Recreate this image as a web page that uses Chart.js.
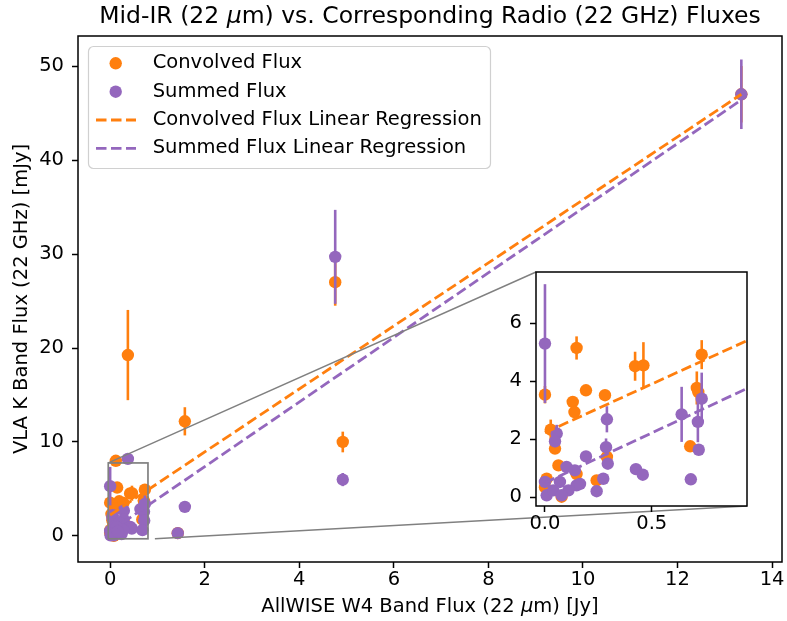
<!DOCTYPE html>
<html>
<head>
<meta charset="utf-8">
<script src="https://cdn.jsdelivr.net/npm/chart.js@4.4.1/dist/chart.umd.min.js"></script>
<style>
  html, body { margin: 0; padding: 0; background: #fff; }
  #wrap { position: relative; width: 787px; height: 621px; }
  #main { position: absolute; left: 0; top: 0; }
  #inset { position: absolute; left: 490px; top: 262px; }
</style>
</head>
<body>
<div id="wrap">
  <canvas id="main" width="787" height="621"></canvas>
  <canvas id="inset" width="262" height="280"></canvas>
</div>
<script>
// Convolved flux (x = W4 flux in Jy, y = K band flux in mJy)
const convX = [0.375, 1.58, 4.76, 4.92, 13.35, 0.12, 1.43,
  0.0, 0.148, 0.192, 0.13, 0.138, 0.281, 0.422, 0.461, 0.734, 0.711, 0.718, 0.68,
  0.027, 0.047, 0.29, 0.242, 0.063, 0.008, 0.0, 0.078, 0.148];
const convY = [19.25, 12.2, 27.0, 10.0, 47.0, 8.0, 0.3,
  3.54, 5.15, 3.69, 3.29, 2.94, 3.52, 4.52, 4.55, 4.92, 3.77, 3.63, 1.76,
  2.33, 1.68, 1.39, 0.58, 1.1, 0.64, 0.35, 0.02, 0.8];
const convErr = [4.8, 1.5, 2.5, 1.1, 3.0, 0.2, 0.1,
  0.3, 0.4, 0.1, 0.15, 0.15, 0.15, 0.5, 0.8, 0.5, 0.57, 0.3, 0.1,
  0.35, 0.1, 0.15, 0.1, 0.1, 0.1, 0.05, 0.05, 0.1];

// Summed flux
const sumX = [0.375, 1.58, 4.76, 4.92, 13.35, 1.43,
  0.0, 0.055, 0.047, 0.29, 0.286, 0.294, 0.192, 0.426, 0.458, 0.64, 0.716, 0.734, 0.72, 0.683, 0.242, 0.273,
  0.0, 0.008, 0.07, 0.101, 0.14, 0.148, 0.11, 0.039, 0.078, 0.164];
const sumY = [8.2, 3.1, 29.7, 6.0, 47.0, 0.3,
  5.3, 2.2, 1.93, 2.69, 1.73, 1.16, 1.41, 0.97, 0.78, 2.86, 2.6, 3.4, 1.64, 0.62, 0.21, 0.64,
  0.53, 0.07, 0.53, 1.05, 0.93, 0.41, 0.24, 0.24, 0.07, 0.46];
const sumErr = [0.4, 0.3, 5.0, 0.7, 3.7, 0.1,
  2.05, 0.3, 0.2, 0.45, 0.3, 0.2, 0.1, 0.1, 0.15, 0.95, 0.7, 0.9, 0.1, 0.1, 0.1, 0.1,
  0.1, 0.05, 0.1, 0.15, 0.1, 0.1, 0.05, 0.05, 0.05, 0.1];

// Linear regression end points
const fitX = [0, 13.35];
const convFitY = [2.23, 47.0];
const sumFitY = [0.5, 46.4];

// Ticks
const xTicks = [0, 2, 4, 6, 8, 10, 12, 14];
const yTicks = [0, 10, 20, 30, 40, 50];
const insetXTicks = [0, 0.5];
const insetXLabels = ['0.0', '0.5'];
const insetYTicks = [0, 2, 4, 6];

const ORANGE = '#ff7f0e';
const PURPLE = '#9467bd';
const FONT = '"DejaVu Sans"';
const FS = 19.5;

// zoomed region (same limits for the inset axes)
const zoomX = [-0.042, 0.946];
const zoomY = [-0.3, 7.77];
const zoomRectX = [-0.04, 0.80];

function pts(xs, ys) {
  return xs.map((x, i) => ({ x: x, y: ys[i] }));
}

function makeDatasets() {
  return [
    { label: 'Convolved Flux', data: pts(convX, convY), errors: convErr,
      backgroundColor: ORANGE, borderWidth: 0, pointRadius: 6.2, clip: 0, order: 4 },
    { label: 'Summed Flux', data: pts(sumX, sumY), errors: sumErr,
      backgroundColor: PURPLE, borderWidth: 0, pointRadius: 6.2, clip: 0, order: 3 },
    { label: 'Convolved Flux Linear Regression', data: pts(fitX, convFitY), showLine: true,
      borderColor: ORANGE, borderWidth: 2.8, borderDash: [10.5, 4.5], pointRadius: 0, clip: 0, order: 2 },
    { label: 'Summed Flux Linear Regression', data: pts(fitX, sumFitY), showLine: true,
      borderColor: PURPLE, borderWidth: 2.8, borderDash: [10.5, 4.5], pointRadius: 0, clip: 0, order: 1 }
  ];
}

// vertical error bars, drawn just before each dataset's markers
const errorBars = {
  id: 'errorBars',
  beforeDatasetDraw(chart, args) {
    const ds = chart.data.datasets[args.index];
    if (!ds.errors) return;
    const { x, y } = chart.scales;
    const a = chart.chartArea;
    const ctx = chart.ctx;
    ctx.save();
    ctx.beginPath();
    ctx.rect(a.left, a.top, a.right - a.left, a.bottom - a.top);
    ctx.clip();
    ctx.strokeStyle = ds.backgroundColor;
    ctx.lineWidth = 2.6;
    ds.data.forEach((p, i) => {
      const px = x.getPixelForValue(p.x);
      ctx.beginPath();
      ctx.moveTo(px, y.getPixelForValue(p.y - ds.errors[i]));
      ctx.lineTo(px, y.getPixelForValue(p.y + ds.errors[i]));
      ctx.stroke();
    });
    ctx.restore();
  }
};

// four spines
const frame = {
  id: 'frame',
  afterDatasetsDraw(chart) {
    const a = chart.chartArea;
    const ctx = chart.ctx;
    ctx.save();
    ctx.strokeStyle = '#000';
    ctx.lineWidth = 1.5;
    ctx.strokeRect(a.left, a.top, a.right - a.left, a.bottom - a.top);
    ctx.restore();
  }
};

const insetBg = {
  id: 'insetBg',
  beforeDraw(chart) {
    const a = chart.chartArea;
    chart.ctx.save();
    chart.ctx.fillStyle = '#fff';
    chart.ctx.fillRect(a.left, a.top, a.right - a.left, a.bottom - a.top);
    chart.ctx.restore();
  }
};

function drawMixed(ctx, parts, cx, y, size) {
  const fonts = parts.map(p => (p[1] ? 'italic ' : '') + size + 'px ' + FONT);
  const widths = parts.map((p, i) => { ctx.font = fonts[i]; return ctx.measureText(p[0]).width; });
  let x = cx - widths.reduce((s, w) => s + w, 0) / 2;
  ctx.textAlign = 'left';
  ctx.textBaseline = 'alphabetic';
  parts.forEach((p, i) => { ctx.font = fonts[i]; ctx.fillText(p[0], x, y); x += widths[i]; });
}

// title, x label, zoom box, connectors, legend
const decorations = {
  id: 'decorations',
  afterDraw(chart) {
    const ctx = chart.ctx;
    const a = chart.chartArea;
    const { x, y } = chart.scales;
    const cx = (a.left + a.right) / 2;
    ctx.save();
    ctx.fillStyle = '#000';
    drawMixed(ctx, [['Mid-IR (22 ', false], ['\u03bc', true], ['m) vs. Corresponding Radio (22 GHz) Fluxes', false]], cx, 23, 23.5);
    drawMixed(ctx, [['AllWISE W4 Band Flux (22 ', false], ['\u03bc', true], ['m) [Jy]', false]], cx, 612, FS);

    // zoom indicator
    ctx.strokeStyle = '#808080';
    ctx.lineWidth = 1.7;
    const rx0 = x.getPixelForValue(zoomRectX[0]), rx1 = x.getPixelForValue(zoomRectX[1]);
    const ry0 = y.getPixelForValue(zoomY[1]), ry1 = y.getPixelForValue(zoomY[0]);
    ctx.strokeRect(rx0, ry0, rx1 - rx0, ry1 - ry0);
    ctx.lineWidth = 1.4;
    ctx.beginPath();
    ctx.moveTo(rx0, ry0);
    ctx.lineTo(536, 272);
    ctx.moveTo(x.getPixelForValue(zoomX[1]), ry1);
    ctx.lineTo(747, 506);
    ctx.stroke();

    // legend
    const lx = 88, ly = 46, lw = 402, lh = 122;
    ctx.fillStyle = 'rgba(255,255,255,0.8)';
    ctx.strokeStyle = '#d0d0d0';
    ctx.lineWidth = 1.2;
    ctx.beginPath();
    ctx.roundRect(lx + 0.5, ly + 0.5, lw, lh, 5);
    ctx.fill();
    ctx.stroke();
    const rows = [63.3, 91.7, 120, 148.3];
    chart.data.datasets.forEach((ds, i) => {
      const ry = rows[i];
      if (ds.showLine) {
        ctx.strokeStyle = ds.borderColor;
        ctx.lineWidth = 2.8;
        ctx.setLineDash([10.5, 4.5]);
        ctx.beginPath();
        ctx.moveTo(96, ry);
        ctx.lineTo(136, ry);
        ctx.stroke();
        ctx.setLineDash([]);
      } else {
        ctx.fillStyle = ds.backgroundColor;
        ctx.beginPath();
        ctx.arc(115.7, ry, 6.2, 0, Math.PI * 2);
        ctx.fill();
      }
      ctx.fillStyle = '#000';
      ctx.font = FS + 'px ' + FONT;
      ctx.textAlign = 'left';
      ctx.textBaseline = 'middle';
      ctx.fillText(ds.label, 152.7, ry);
    });
    ctx.restore();
  }
};

function axis(min, max, ticks, labels, isX, size) {
  return {
    type: 'linear',
    min: min,
    max: max,
    afterBuildTicks: s => { s.ticks = ticks.map(v => ({ value: v })); },
    afterFit: s => {
      if (isX) s.height = size; else s.width = size;
      s.paddingTop = 0; s.paddingBottom = 0; s.paddingLeft = 0; s.paddingRight = 0;
    },
    grid: { drawOnChartArea: false, drawTicks: true, tickLength: 6, tickColor: '#000', tickWidth: 1.5 },
    border: { display: false },
    ticks: {
      color: '#000', font: { family: 'DejaVu Sans', size: FS }, padding: isX ? 0 : 8,
      maxRotation: 0, autoSkip: false,
      callback: (v, i) => labels ? labels[i] : String(v)
    }
  };
}

const mainY = axis(-2.77, 53.2, yTicks, null, false, 78);
mainY.title = { display: true, text: 'VLA K Band Flux (22 GHz) [mJy]', color: '#000',
  font: { family: 'DejaVu Sans', size: FS }, padding: { top: 10, bottom: 0 } };

new Chart(document.getElementById('main'), {
  type: 'scatter',
  data: { datasets: makeDatasets() },
  options: {
    responsive: false,
    animation: false,
    layout: { autoPadding: false, padding: { left: 0, top: 36, right: 5, bottom: 0 } },
    plugins: { legend: { display: false }, tooltip: { enabled: false } },
    scales: {
      x: axis(-0.68, 14.21, xTicks, null, true, 59),
      y: mainY
    }
  },
  plugins: [errorBars, frame, decorations]
});

new Chart(document.getElementById('inset'), {
  type: 'scatter',
  data: { datasets: makeDatasets() },
  options: {
    responsive: false,
    animation: false,
    layout: { autoPadding: false, padding: { left: 0, top: 10, right: 5, bottom: 0 } },
    plugins: { legend: { display: false }, tooltip: { enabled: false } },
    scales: {
      x: axis(zoomX[0], zoomX[1], insetXTicks, insetXLabels, true, 36),
      y: axis(zoomY[0], zoomY[1], insetYTicks, null, false, 46)
    }
  },
  plugins: [insetBg, errorBars, frame]
});
</script>
</body>
</html>
